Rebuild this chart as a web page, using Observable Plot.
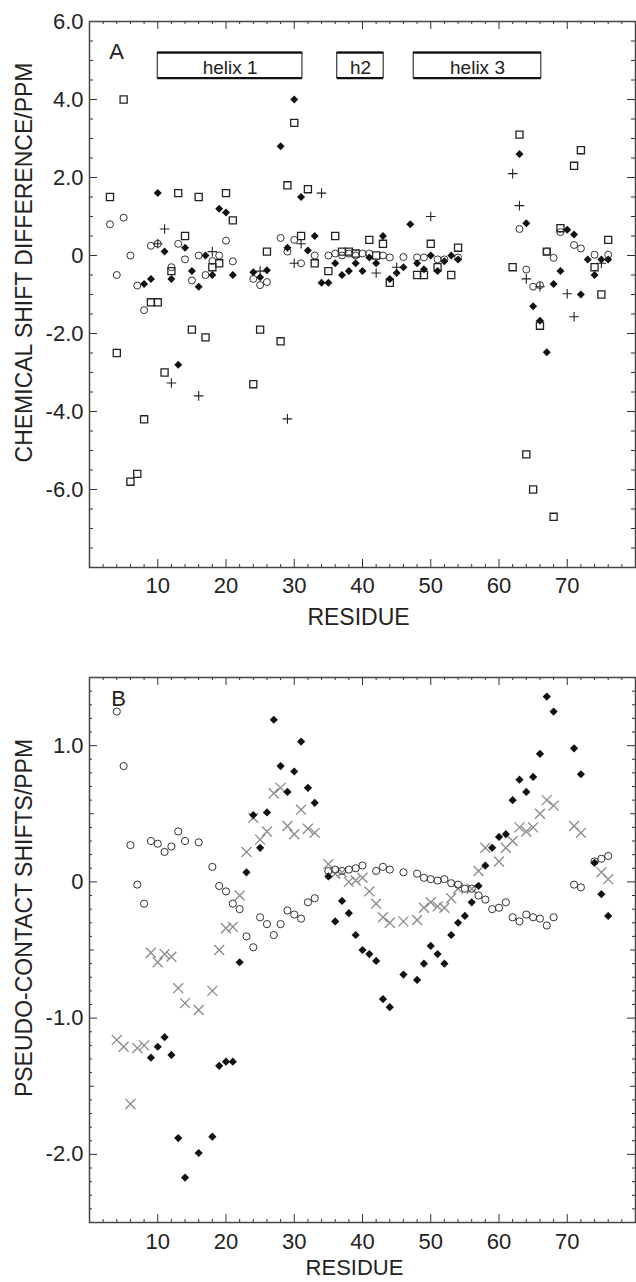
<!DOCTYPE html>
<html><head><meta charset="utf-8">
<script src="https://cdn.jsdelivr.net/npm/d3@7"></script>
<script src="https://cdn.jsdelivr.net/npm/@observablehq/plot@0.6"></script>
<style>
html,body{margin:0;padding:0;background:#fff;}
#chart svg{display:block;}
</style></head><body><div id="chart"></div>
<script>
// ---------- Panel A data (chemical shift differences, ppm) ----------
const aSquareRes = [3,4,5,6,7,8,9,10,11,12,13,14,15,16,17,18,19,20,21,24,25,26,28,29,30,31,32,33,35,36,37,38,39,41,42,43,44,48,49,50,51,53,54,62,63,64,65,66,67,68,69,71,72,74,75,76];
const aSquareVal = [1.5,-2.5,4.0,-5.8,-5.6,-4.2,-1.2,-1.2,-3.0,-0.4,1.6,0.5,-1.9,1.5,-2.1,-0.3,-0.2,1.6,0.9,-3.3,-1.9,0.1,-2.2,1.8,3.4,0.5,1.7,-0.2,-0.4,0.5,0.1,0.1,0.05,0.4,0.0,0.3,-0.7,-0.5,-0.5,0.3,-0.3,-0.5,0.2,-0.3,3.1,-5.1,-6.0,-1.8,0.1,-6.7,0.7,2.3,2.7,-0.3,-1.0,0.4];

const aDiamondRes = [8,9,10,11,12,13,14,15,16,17,18,19,20,21,24,25,26,28,29,30,31,32,33,34,35,36,37,38,39,40,41,42,43,44,45,46,47,48,49,50,51,52,53,54,63,64,65,66,67,68,69,70,71,72,73,74,75,76];
const aDiamondVal = [-0.73,-0.6,1.6,0.1,-0.6,-2.8,0.2,-0.4,-0.8,0.0,-0.5,1.2,1.1,-0.5,-0.43,-0.56,-0.38,2.8,0.2,4.0,1.5,0.13,0.5,-0.7,-0.7,-0.2,-0.5,-0.4,-0.2,-0.4,-0.05,-0.2,0.5,-0.6,-0.45,-0.3,0.8,-0.2,-0.35,0.0,-0.4,-0.15,0.0,-0.1,2.6,0.83,-1.3,-1.67,-2.48,-0.73,-0.4,0.66,0.54,-1.0,-0.1,-0.5,-0.1,-0.1];

const aCircleRes = [3,4,5,6,7,8,9,10,12,13,14,15,16,17,18,19,20,21,24,25,26,28,29,30,31,33,35,36,37,38,39,40,41,43,44,46,48,49,51,52,54,63,64,65,66,67,68,69,71,72,74,76];
const aCircleVal = [0.8,-0.5,0.97,0.0,-0.77,-1.4,0.25,0.3,-0.3,0.3,-0.1,-0.64,0.0,-0.5,-0.14,0.0,0.38,-0.15,-0.6,-0.76,-0.68,0.45,0.1,0.4,-0.2,0.0,0.0,0.05,0.0,0.05,0.0,0.05,0.05,0.0,-0.05,-0.04,-0.05,-0.05,-0.1,-0.1,-0.05,0.68,-0.36,-0.8,-0.76,0.1,-0.06,0.6,0.27,0.18,0.02,0.02];

const aPlusRes = [10,11,12,16,18,25,29,30,31,34,42,45,50,62,63,64,66,70,71,75];
const aPlusVal = [0.3,0.68,-3.27,-3.6,0.1,-0.4,-4.19,-0.2,0.3,1.6,-0.45,-0.3,1.0,2.1,1.28,-0.6,-0.8,-0.98,-1.57,-0.2];

const helixNames = ["helix 1","h2","helix 3"];
const helixStart = [10, 36.3, 47.5];
const helixEnd = [31.2, 43.1, 66.2];

// ---------- Panel B data (pseudo-contact shifts, ppm) ----------
const bDiamondRes = [9,10,11,12,13,14,16,18,19,20,21,22,23,24,25,26,27,28,29,30,31,32,33,35,36,37,38,39,40,41,42,43,44,46,48,49,50,51,52,53,54,55,56,57,58,59,60,61,62,63,64,65,66,67,68,71,72,74,75,76];
const bDiamondVal = [-1.29,-1.21,-1.14,-1.27,-1.88,-2.17,-1.99,-1.87,-1.35,-1.32,-1.32,-0.59,0.07,0.49,0.25,0.51,1.19,0.85,0.66,0.81,1.03,0.69,0.58,0.04,-0.29,-0.14,-0.23,-0.39,-0.5,-0.53,-0.58,-0.86,-0.92,-0.68,-0.72,-0.6,-0.47,-0.53,-0.6,-0.39,-0.3,-0.25,-0.15,-0.03,0.12,0.25,0.33,0.35,0.6,0.75,0.66,0.77,0.94,1.36,1.25,0.98,0.79,0.14,-0.09,-0.25];

const bCircleRes = [4,5,6,7,8,9,10,11,12,13,14,16,18,19,20,21,22,23,24,25,26,27,28,29,30,31,32,33,35,36,37,38,39,40,42,43,44,46,48,49,50,51,52,53,54,55,56,57,58,59,60,61,62,63,64,65,66,67,68,71,72,74,75,76];
const bCircleVal = [1.25,0.85,0.27,-0.02,-0.16,0.3,0.28,0.22,0.26,0.37,0.3,0.29,0.11,-0.03,-0.07,-0.16,-0.2,-0.4,-0.48,-0.26,-0.31,-0.39,-0.31,-0.21,-0.24,-0.27,-0.15,-0.12,0.08,0.09,0.08,0.09,0.1,0.12,0.08,0.11,0.09,0.07,0.06,0.03,0.02,0.01,0.02,-0.01,-0.02,-0.05,-0.05,-0.1,-0.13,-0.2,-0.19,-0.15,-0.26,-0.29,-0.24,-0.26,-0.27,-0.32,-0.26,-0.02,-0.04,0.15,0.17,0.19];

const bCrossRes = [4,5,6,7,8,9,10,11,12,13,14,16,18,19,20,21,22,23,24,25,26,27,28,29,30,31,32,33,35,36,37,38,39,40,41,42,43,44,46,48,49,50,51,52,53,54,56,57,58,60,61,62,63,64,65,66,67,68,71,72,75,76];
const bCrossVal = [-1.16,-1.21,-1.63,-1.22,-1.2,-0.52,-0.59,-0.53,-0.55,-0.78,-0.89,-0.94,-0.8,-0.5,-0.34,-0.33,-0.1,0.22,0.47,0.31,0.37,0.65,0.69,0.41,0.35,0.53,0.39,0.36,0.13,0.06,0.07,0.0,0.01,0.03,-0.07,-0.16,-0.26,-0.3,-0.29,-0.28,-0.19,-0.15,-0.18,-0.19,-0.12,-0.05,-0.05,0.08,0.25,0.15,0.25,0.3,0.4,0.37,0.4,0.5,0.6,0.56,0.41,0.36,0.07,0.02];

// tick labels
const xTickLabels = [10,20,30,40,50,60,70];
const aYTickLabels = [6,4,2,0,-2,-4,-6];
const bYTickLabels = [1,0,-1,-2];

// ---------- helpers ----------
const zip = (xs, ys) => xs.map((x, i) => ({x, y: ys[i]}));
const fmt = d => d === 0 ? "0" : d.toFixed(1);
const FONT = "'Liberation Sans', Arial, Helvetica, sans-serif";
const INK = "#222";
const W = 636, PW = 546;

function inwardTicks(values, len, dir, pw, ph) {
  const s = {stroke: "#333", strokeWidth: 1};
  if (dir === "y") return [
    Plot.tickY(values, {y: d => d, insetRight: pw - len, ...s}),
    Plot.tickY(values, {y: d => d, insetLeft: pw - len, ...s})
  ];
  return [
    Plot.tickX(values, {x: d => d, insetTop: ph - len, ...s}),
    Plot.tickX(values, {x: d => d, insetBottom: ph - len, ...s})
  ];
}

const xMinor = d3.range(2, 80, 2).filter(v => v % 10 !== 0);
const xMajor = xTickLabels;

// ---------- Panel A ----------
const helices = helixNames.map((name, i) => ({name, start: helixStart[i], end: helixEnd[i]}));
const aH = 640, aTop = 21, aBottom = 73, aPH = aH - aTop - aBottom;
const aYMinor = d3.range(-15, 12).map(i => i / 2).filter(v => v % 2 !== 0);
const aYMajor = [-6, -4, -2, 0, 2, 4];

const plotA = Plot.plot({
  width: W, height: aH,
  marginLeft: 89, marginRight: 1, marginTop: aTop, marginBottom: aBottom,
  style: {fontFamily: FONT, fontSize: "22px", color: INK, background: "#fff"},
  x: {domain: [0, 80]},
  y: {domain: [-8, 6]},
  marks: [
    ...inwardTicks(xMinor, 3, "x", PW, aPH),
    ...inwardTicks(xMajor, 8, "x", PW, aPH),
    ...inwardTicks(aYMinor, 4, "y", PW, aPH),
    ...inwardTicks(aYMajor, 8, "y", PW, aPH),
    Plot.frame({stroke: "#444", strokeWidth: 1.5}),
    Plot.axisX({ticks: xTickLabels, tickSize: 0, tickPadding: 10, label: null, tickFormat: d => String(d)}),
    Plot.axisY({ticks: aYTickLabels, tickSize: 0, tickPadding: 6, label: null, tickFormat: fmt}),
    Plot.text(["CHEMICAL SHIFT DIFFERENCE/PPM"], {frameAnchor: "left", textAnchor: "middle", lineAnchor: "middle", rotate: -90, dx: -65, dy: -32, fontSize: 23, fill: INK, text: d => d}),
    Plot.text(["RESIDUE"], {frameAnchor: "bottom", textAnchor: "middle", dy: 41, dx: -4, lineAnchor: "top", fontSize: 23, fill: INK, text: d => d}),
    Plot.text(["A"], {frameAnchor: "top-left", textAnchor: "middle", dx: 27, dy: 22, lineAnchor: "top", fontSize: 22, fill: INK, text: d => d}),
    Plot.rect(helices, {x1: "start", x2: "end", y1: 4.55, y2: 5.2, fill: "#fff", stroke: "#111", strokeWidth: 1}),
    Plot.ruleY(helices, {y: 5.2, x1: "start", x2: "end", stroke: "#111", strokeWidth: 2.2}),
    Plot.ruleY(helices, {y: 4.55, x1: "start", x2: "end", stroke: "#111", strokeWidth: 2.2}),
    Plot.text(helices, {x: d => (d.start + d.end) / 2, y: 4.8, text: "name", fontSize: 19, fill: INK}),
    Plot.dot(zip(aSquareRes, aSquareVal), {x: "x", y: "y", symbol: "square", r: 4, fill: "none", stroke: "#222", strokeWidth: 1.3}),
    Plot.dot(zip(aCircleRes, aCircleVal), {x: "x", y: "y", symbol: "circle", r: 3.5, fill: "none", stroke: "#333", strokeWidth: 1}),
    Plot.dot(zip(aPlusRes, aPlusVal), {x: "x", y: "y", symbol: "plus", r: 3.2, fill: "none", stroke: "#222", strokeWidth: 1.1}),
    Plot.dot(zip(aDiamondRes, aDiamondVal), {x: "x", y: "y", symbol: "diamond2", r: 3.6, fill: "#111", stroke: "none"})
  ]
});

// ---------- Panel B ----------
const bH = 642, bTop = 37, bBottom = 60, bPH = bH - bTop - bBottom;
const bYMinor = d3.range(-24, 15).filter(i => i % 5 !== 0).map(i => i / 10);
const bYMid = [-1.5, -0.5, 0.5];
const bYMajor = [-2, -1, 0, 1];

const plotB = Plot.plot({
  width: W, height: bH,
  marginLeft: 89, marginRight: 1, marginTop: bTop, marginBottom: bBottom,
  style: {fontFamily: FONT, fontSize: "22px", color: INK, background: "#fff"},
  x: {domain: [0, 80]},
  y: {domain: [-2.5, 1.5]},
  marks: [
    ...inwardTicks(xMinor, 3, "x", PW, bPH),
    ...inwardTicks(xMajor, 8, "x", PW, bPH),
    ...inwardTicks(bYMinor, 3, "y", PW, bPH),
    ...inwardTicks(bYMid, 5, "y", PW, bPH),
    ...inwardTicks(bYMajor, 8, "y", PW, bPH),
    Plot.frame({stroke: "#444", strokeWidth: 1.5}),
    Plot.axisX({ticks: xTickLabels, tickSize: 0, tickPadding: 11, label: null, tickFormat: d => String(d)}),
    Plot.axisY({ticks: bYTickLabels, tickSize: 0, tickPadding: 6, label: null, tickFormat: fmt}),
    Plot.text(["PSEUDO-CONTACT SHIFTS/PPM"], {frameAnchor: "left", textAnchor: "middle", lineAnchor: "middle", rotate: -90, dx: -65, dy: -32, fontSize: 23, fill: INK, text: d => d}),
    Plot.text(["RESIDUE"], {frameAnchor: "bottom", textAnchor: "middle", dy: 37, dx: -8, lineAnchor: "top", fontSize: 22, fill: INK, text: d => d}),
    Plot.text(["B"], {frameAnchor: "top-left", textAnchor: "middle", dx: 29, dy: 13, lineAnchor: "top", fontSize: 22, fill: INK, text: d => d}),
    Plot.dot(zip(bCrossRes, bCrossVal), {x: "x", y: "y", symbol: "times", r: 4.6, fill: "none", stroke: "#8a8a8a", strokeWidth: 1.3}),
    Plot.dot(zip(bCircleRes, bCircleVal), {x: "x", y: "y", symbol: "circle", r: 3.6, fill: "none", stroke: "#333", strokeWidth: 1}),
    Plot.dot(zip(bDiamondRes, bDiamondVal), {x: "x", y: "y", symbol: "diamond2", r: 3.7, fill: "#111", stroke: "none"})
  ]
});

const host = document.getElementById("chart");
host.appendChild(plotA);
host.appendChild(plotB);
</script>
</body></html>
